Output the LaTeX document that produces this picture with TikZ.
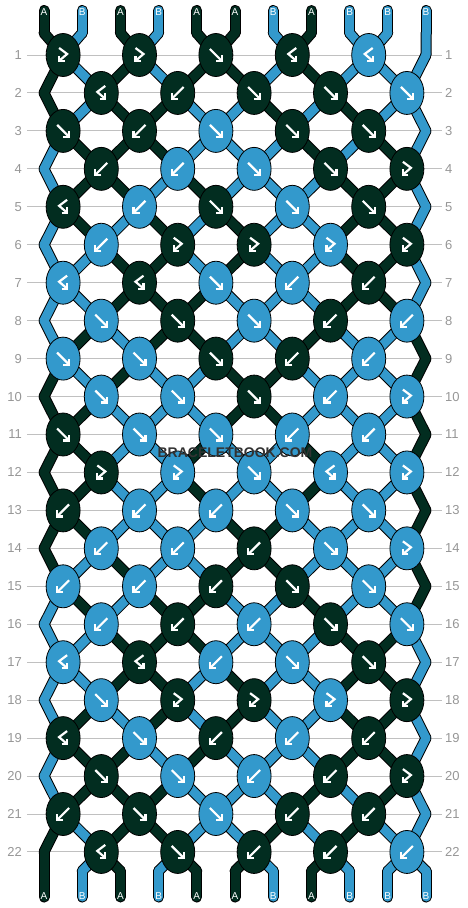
\documentclass[tikz,border=0pt]{standalone}
\usepackage{fontspec}
\setmainfont{Liberation Sans}
\usetikzlibrary{shapes.geometric}
\pgfdeclarelayer{grid}
\pgfdeclarelayer{thread}
\pgfsetlayers{grid,thread,main}

\definecolor{strA}{RGB}{2,45,32}
\definecolor{strB}{RGB}{51,153,204}
\definecolor{rulegray}{RGB}{192,192,192}
\definecolor{numgray}{RGB}{150,150,150}
\definecolor{markgray}{RGB}{50,50,50}

\tikzset{
  knot/.style={ellipse,draw=black,line width=0.8pt,minimum width=34pt,minimum height=43pt,inner sep=0pt},
  rim/.style={draw=black,line width=11pt,line cap=round},
  core/.style={draw=#1,line width=9pt,line cap=round},
  arrow/.style={draw=white,line width=2.2pt},
  rowline/.style={draw=rulegray,line width=1pt},
  rownum/.style={text=numgray,font=\fontsize{13}{13}\selectfont,inner sep=0pt},
  strlbl/.style={text=white,font=\fontsize{10}{10}\selectfont,inner sep=0pt},
  wmark/.style={font=\bfseries\fontsize{14}{14}\selectfont,inner sep=0pt},
  pics/arrf/.style={code={\draw[arrow] (-6,-6) -- (5,5); \draw[arrow] (0,6) -- (6,6) -- (6,0);}},
  pics/arrb/.style={code={\draw[arrow] (6,-6) -- (-5,5); \draw[arrow] (0,6) -- (-6,6) -- (-6,0);}},
  pics/arrfb/.style={code={\draw[arrow] (-4,-7) -- (4,-1) -- (-3.2,5.2); \draw[arrow] (1.5,6) -- (-4,6) -- (-4,0.5);}},
  pics/arrbf/.style={code={\draw[arrow] (4,-7) -- (-4,-1) -- (3.2,5.2); \draw[arrow] (-1.5,6) -- (4,6) -- (4,0.5);}}
}

% colour of every position after each row
\def\rowcols{0/{A,B,A,B,A,A,B,A,B,B,B},1/{A,B,A,B,A,A,B,A,B,B,B},
  2/{A,B,A,A,B,B,A,B,A,B,B},3/{B,A,A,A,B,B,B,A,B,A,B},4/{B,A,A,B,A,B,B,B,A,A,B},
  5/{B,A,B,A,B,A,B,B,A,A,B},6/{B,B,A,A,B,A,B,B,A,A,B},7/{B,B,A,A,A,B,B,B,A,A,B},
  8/{B,A,B,A,A,B,B,A,B,B,A},9/{A,B,A,B,B,A,A,B,B,B,A},10/{A,A,B,B,B,A,A,B,B,B,A},
  11/{A,A,B,B,A,B,B,A,B,B,A},12/{A,A,B,B,A,B,B,A,B,B,A},13/{A,A,B,B,B,A,A,B,B,B,A},
  14/{A,B,A,B,B,A,A,B,B,B,A},15/{B,A,B,A,A,B,B,A,B,B,A},16/{B,B,A,A,A,B,B,B,A,A,B},
  17/{B,B,A,A,B,A,B,B,A,A,B},18/{B,A,B,A,B,A,B,B,A,A,B},19/{B,A,A,B,A,B,B,B,A,A,B},
  20/{B,A,A,A,B,B,B,A,B,A,B},21/{A,B,A,A,B,B,A,B,A,B,B},22/{A,B,A,B,A,A,B,A,B,B,B}}

% knot colour / knot type
\def\knotrows{1/{A/fb,A/fb,A/f,A/bf,B/bf},2/{A/bf,A/b,A/f,A/f,B/f},
  3/{A/f,A/b,B/f,A/f,A/f},4/{A/b,B/b,B/f,A/f,A/fb},5/{A/bf,B/b,A/f,B/f,A/f},
  6/{B/b,A/fb,A/fb,B/fb,A/fb},7/{B/bf,A/bf,B/f,B/b,A/b},8/{B/f,A/f,B/f,A/b,B/b},
  9/{B/f,B/f,A/f,A/b,B/b},10/{B/f,B/f,A/f,B/b,B/fb},11/{A/f,B/f,B/f,B/b,B/b},
  12/{A/fb,B/fb,B/f,B/bf,B/fb},13/{A/b,B/b,B/b,B/f,B/f},14/{B/b,B/b,A/b,B/f,B/fb},
  15/{B/b,B/b,A/b,A/f,B/f},16/{B/b,A/b,B/b,A/f,B/f},17/{B/bf,A/bf,B/b,B/f,A/f},
  18/{B/f,A/fb,A/fb,B/fb,A/fb},19/{A/bf,B/f,A/b,B/b,A/b},20/{A/f,B/f,B/b,A/b,A/fb},
  21/{A/b,A/f,B/f,A/b,A/b},22/{A/bf,A/f,A/b,A/b,B/b}}

\newcommand{\strands}[1]{%
  \foreach \c [count=\p] in {A,B,A,B,A,A,B,A,B,B,B} {
    \draw[#1=str\c] (top-\p) -- (s-0-\p);
    \draw[#1=str\c] (s-23-\p) -- (bot-\p);
  }
  \foreach \r/\cl in \rowcols {
    \pgfmathtruncatemacro\n{\r+1}
    \foreach \c [count=\p] in \cl
      \draw[#1=str\c] (s-\r-\p) -- (s-\n-\p);
  }}

\begin{document}
\begin{tikzpicture}[x=1pt,y=-1pt]
\useasboundingbox (0,0) rectangle (468,908);

% rules and row numbers
\begin{pgfonlayer}{grid}
\foreach \r in {1,...,22} {
  \pgfmathsetmacro\y{55+(\r-1)*37.95}
  \draw[rowline] (27,\y) -- (442,\y);
  \node[rownum,anchor=east] (nl-\r) at (22,\y) {\r};
  \node[rownum,anchor=west] (nr-\r) at (445,\y) {\r};
}
\end{pgfonlayer}

% knots
\foreach \r/\kn in \knotrows {
  \pgfmathsetmacro\y{55+(\r-1)*37.95}
  \pgfmathsetmacro\xo{mod(\r,2)==1 ? 63.1 : 101.3}
  \foreach \c/\t [count=\k] in \kn {
    \node[knot,fill=str\c] (k-\r-\k) at (\xo+\k*76.4-76.4,\y) {};
    \pic at (k-\r-\k) {arr\t};
  }
}

% thread points
\foreach \p in {1,...,11} {
  \coordinate (top-\p) at (5.8+\p*38.2,10.5);
  \coordinate (s-0-\p) at (5.8+\p*38.2,33);
  \coordinate (s-23-\p) at (5.8+\p*38.2,871);
  \coordinate (bot-\p) at (5.8+\p*38.2,897);
}
\foreach \r in {1,...,22} {
  \pgfmathsetmacro\y{55+(\r-1)*37.95}
  \foreach \p in {1,...,11} {
    \pgfmathtruncatemacro\k{mod(\r,2)==1 ? (\p+1)/2 : \p/2}
    \ifnum\k=0 \coordinate (s-\r-\p) at (44,\y);
    \else\ifnum\k=6 \coordinate (s-\r-\p) at (426,\y);
    \else \coordinate (s-\r-\p) at (k-\r-\k);
    \fi\fi
  }
}

% threads
\begin{pgfonlayer}{thread}
\strands{rim}
\strands{core}
\end{pgfonlayer}

% string letters
\foreach \c [count=\p] in {A,B,A,B,A,A,B,A,B,B,B} {
  \node[strlbl] (lt-\p) at (5.8+\p*38.2,12.5) {\c};
  \node[strlbl] (lb-\p) at (5.8+\p*38.2,896) {\c};
}

% watermark
\node[wmark,text=markgray] (mark) at (235,453) {BRACELETBOOK.COM};
\end{tikzpicture}
\end{document}
